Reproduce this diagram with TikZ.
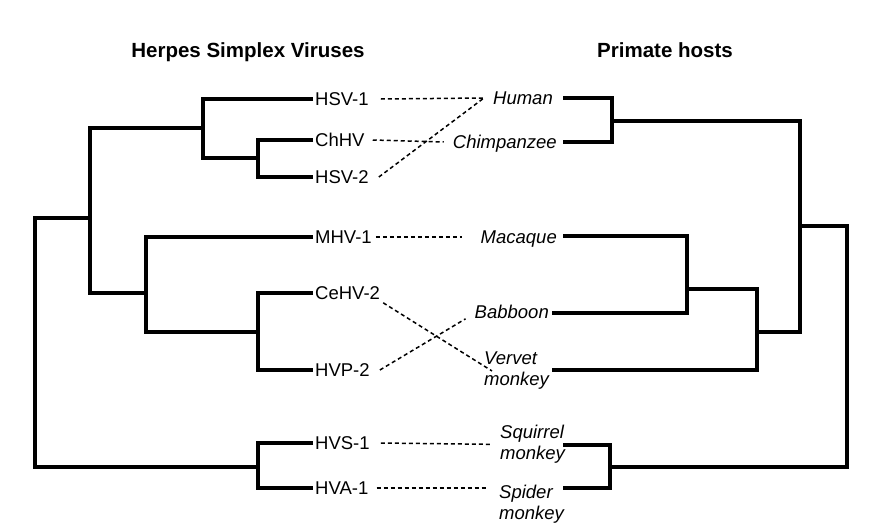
\documentclass[tikz,border=0pt]{standalone}
\usepackage{fontspec}
\setmainfont{Liberation Sans}
\begin{document}
\begin{tikzpicture}[x=1pt, y=-1pt,
    branch/.style={line width=4.8pt, line join=miter},
    link/.style={line width=1.5pt, dash pattern=on 4pt off 3pt},
    virus/.style={anchor=west, inner xsep=2pt, inner ysep=0pt, text height=13.2pt, text depth=0pt,
      font=\fontsize{18.5}{21}\selectfont},
    host/.style={anchor=east, inner sep=0pt, text height=13.2pt, text depth=0pt,
      font=\fontsize{18.5}{21}\selectfont\itshape},
    hosttwo/.style={anchor=north west, inner sep=0pt, align=left,
      font=\fontsize{18.5}{21}\selectfont\itshape},
    heading/.style={inner sep=0pt, text height=14.7pt, text depth=0pt,
      font=\fontsize{20.5}{24}\selectfont\bfseries}]
  \useasboundingbox (0,0) rectangle (882,530);

  % Headings
  \node[heading] (hvtitle) at (248,50) {Herpes Simplex Viruses};
  \node[heading] (phtitle) at (665,50) {Primate hosts};

  % Viruses
  \foreach \n/\y/\t in {hsv1/99/HSV-1, chhv/140/ChHV, hsv2/177/HSV-2, mhv1/237/MHV-1,
      cehv2/293/CeHV-2, hvp2/370/HVP-2, hvs1/443/HVS-1, hva1/488/HVA-1}
    \node[virus] (\n) at (313,\y) {\t};

  \coordinate (nChHV) at (258,158);
  \coordinate (nHSV)  at (203,128);
  \coordinate (nCe)   at (258,332);
  \coordinate (nMac)  at (146,293);
  \coordinate (nOld)  at (90,218);
  \coordinate (nNew)  at (258,467);
  \coordinate (nRoot) at (35,340);

  \draw[branch] (chhv.west) -| (nChHV) |- (hsv2.west);
  \draw[branch] (hsv1.west) -| (nHSV) |- (nChHV);
  \draw[branch] (cehv2.west) -| (nCe) |- (hvp2.west);
  \draw[branch] (mhv1.west) -| (nMac) |- (nCe);
  \draw[branch] (nHSV) -| (nOld) |- (nMac);
  \draw[branch] (hvs1.west) -| (nNew) |- (hva1.west);
  \draw[branch] (nOld) -| (nRoot) |- (nNew);

  % Hosts
  \node[host] (human)   at (553,98)  {Human};
  \node[host] (chimp)   at (557,142) {Chimpanzee};
  \node[host] (macaque) at (557,237) {Macaque};
  \node[host] (babboon) at (549,312) {Babboon};
  \node[hosttwo] (vervet)   at (484,352) {Vervet\\monkey};
  \node[hosttwo] (squirrel) at (500,425) {Squirrel\\monkey};
  \node[hosttwo] (spider)   at (499,485) {Spider\\monkey};

  \coordinate (tHuman) at (563,98);
  \coordinate (tChimp) at (563,142);
  \coordinate (tMac)   at (563,236);
  \coordinate (tBab)   at (552,313);
  \coordinate (tVer)   at (552,370);
  \coordinate (tSq)    at (563,445);
  \coordinate (tSp)    at (563,488);

  \coordinate (mHC)   at (612,121);
  \coordinate (mMB)   at (687,289);
  \coordinate (mMBV)  at (757,332);
  \coordinate (mOW)   at (800,226);
  \coordinate (mNW)   at (610,467);
  \coordinate (mRoot) at (847,300);

  \draw[branch] (tHuman) -| (mHC) |- (tChimp);
  \draw[branch] (tMac) -| (mMB) |- (tBab);
  \draw[branch] (mMB) -| (mMBV) |- (tVer);
  \draw[branch] (mHC) -| (mOW) |- (mMBV);
  \draw[branch] (tSq) -| (mNW) |- (tSp);
  \draw[branch] (mOW) -| (mRoot) |- (mNW);

  % Links
  \draw[link] ([xshift=10pt]hsv1.east) -- ([xshift=-9pt]human.west);
  \draw[link] ([xshift=6pt]chhv.east) -- ([xshift=-9pt]chimp.west);
  \draw[link] ([xshift=8pt]hsv2.east) -- ([xshift=-9pt]human.west);
  \draw[link] ([xshift=2pt]mhv1.east) -- ([xshift=-19pt]macaque.west);
  \draw[link] ([xshift=1pt,yshift=-3pt]cehv2.south east) -- ([xshift=8pt]vervet.west);
  \draw[link] ([xshift=8pt]hvp2.east) -- ([xshift=-9pt]babboon.south west);
  \draw[link] ([xshift=9pt]hvs1.east) -- ([xshift=-10pt]squirrel.west);
  \draw[link] ([xshift=6pt]hva1.east) -- ([xshift=-12pt,yshift=-3pt]spider.north west);
\end{tikzpicture}
\end{document}
